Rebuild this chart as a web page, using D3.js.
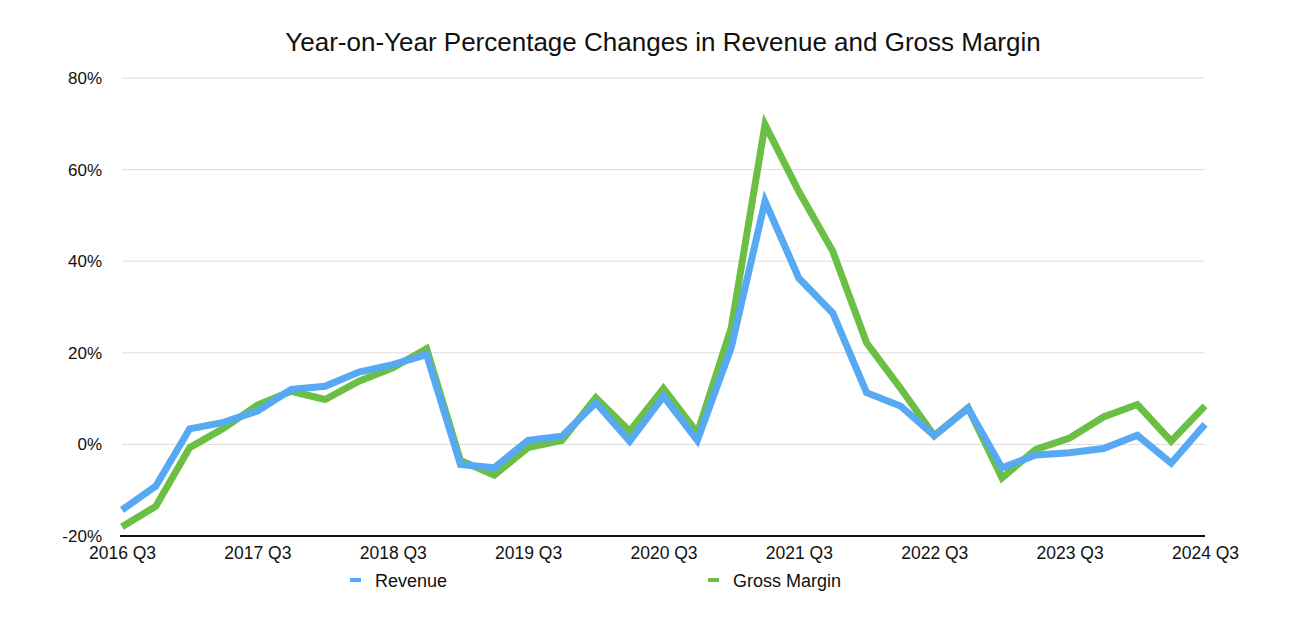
<!DOCTYPE html>
<html><head><meta charset="utf-8">
<script src="https://cdn.jsdelivr.net/npm/d3@7"></script>
<style>body{margin:0;background:#fff;} svg{display:block;font-family:"Liberation Sans",Arial,Helvetica,sans-serif;}</style>
</head><body>
<svg id="c" width="1312" height="617"></svg>
<script>
const quarters = ["2016 Q3","2016 Q4","2017 Q1","2017 Q2","2017 Q3","2017 Q4","2018 Q1","2018 Q2","2018 Q3","2018 Q4","2019 Q1","2019 Q2","2019 Q3","2019 Q4","2020 Q1","2020 Q2","2020 Q3","2020 Q4","2021 Q1","2021 Q2","2021 Q3","2021 Q4","2022 Q1","2022 Q2","2022 Q3","2022 Q4","2023 Q1","2023 Q2","2023 Q3","2023 Q4","2024 Q1","2024 Q2","2024 Q3"];
const revenue = [-14.3,-9.1,3.4,4.8,7.3,12.0,12.7,15.8,17.4,19.6,-4.4,-5.1,0.9,1.8,9.1,0.7,10.5,0.9,21.1,53.1,36.3,28.7,11.3,8.4,1.9,7.9,-5.1,-2.3,-1.8,-0.9,2.0,-4.1,4.4];
const grossMargin = [-18.0,-13.5,-0.7,3.5,8.6,11.6,9.8,13.8,16.7,20.9,-3.5,-6.7,-0.7,0.9,10.2,2.9,12.2,2.5,25.4,69.8,55.2,42.2,22.2,12.3,1.9,8.0,-7.3,-1.1,1.4,6.0,8.7,0.7,8.4];
const yTicks = [-20,0,20,40,60,80];
const xTickLabels = ["2016 Q3","2017 Q3","2018 Q3","2019 Q3","2020 Q3","2021 Q3","2022 Q3","2023 Q3","2024 Q3"];
const seriesNames = ["Revenue","Gross Margin"];
const colors = {"Revenue":"#57a9f2","Gross Margin":"#6cbf45"};

const svg = d3.select("#c");
const x = d3.scalePoint().domain(quarters).range([122,1205]);
const y = d3.scaleLinear().domain([-20,80]).range([536,78]);

svg.append("text").attr("x",663).attr("y",51).attr("text-anchor","middle")
  .attr("font-size",26).attr("fill","#111").text("Year-on-Year Percentage Changes in Revenue and Gross Margin");

// grid
svg.append("g").selectAll("line").data(yTicks.filter(d=>d!==-20)).join("line")
  .attr("x1",122).attr("x2",1205).attr("y1",d=>y(d)).attr("y2",d=>y(d))
  .attr("stroke","#dcdcdc").attr("stroke-width",1);

// y axis labels
const yAxis = d3.axisLeft(y).tickValues(yTicks).tickFormat(d=>d+"%").tickSize(0).tickPadding(0);
const gy = svg.append("g").attr("transform","translate(102,0)").call(yAxis);
gy.select(".domain").remove();
gy.selectAll("text").attr("font-size",17).attr("fill","#111").attr("font-family","Liberation Sans, Arial, sans-serif");

// x axis
const xAxis = d3.axisBottom(x).tickValues(xTickLabels).tickSize(0).tickPadding(11);
const gx = svg.append("g").attr("transform","translate(0,536)").call(xAxis);
gx.select(".domain").attr("d","M120,0H1205").attr("stroke","#111").attr("stroke-width",2);
gx.selectAll("text").attr("font-size",17.5).attr("fill","#111").attr("font-family","Liberation Sans, Arial, sans-serif");

// lines
const line = d3.line().x((d,i)=>x(quarters[i])).y(d=>y(d)).curve(d3.curveLinear);
svg.append("path").datum(grossMargin).attr("d",line).attr("fill","none")
  .attr("stroke",colors["Gross Margin"]).attr("stroke-width",7).attr("stroke-linejoin","miter");
svg.append("path").datum(revenue).attr("d",line).attr("fill","none")
  .attr("stroke",colors["Revenue"]).attr("stroke-width",7).attr("stroke-linejoin","miter");

// legend
const legendX = [350,708];
seriesNames.forEach((n,i)=>{
  svg.append("rect").attr("x",legendX[i]).attr("y",578).attr("width",11).attr("height",4).attr("fill",colors[n]);
  svg.append("text").attr("x",legendX[i]+25).attr("y",587).attr("font-size",18).attr("fill","#111").text(n);
});
</script>
</body></html>
